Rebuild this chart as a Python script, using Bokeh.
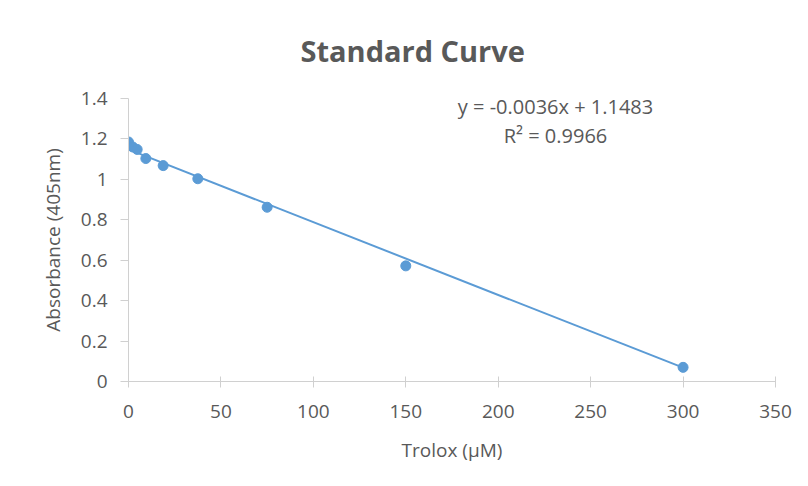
from bokeh.plotting import figure
from bokeh.models import Label, Range1d, FixedTicker
from bokeh.embed import file_html
from bokeh.resources import INLINE

# Data
trolox_um = [0, 2.34, 4.69, 9.38, 18.75, 37.5, 75, 150, 300]
absorbance = [1.185, 1.16, 1.148, 1.103, 1.068, 1.003, 0.862, 0.572, 0.07]
slope = -0.0036
intercept = 1.1483
r2 = 0.9966
x_ticks = [0, 50, 100, 150, 200, 250, 300, 350]
y_ticks = [0, 0.2, 0.4, 0.6, 0.8, 1.0, 1.2, 1.4]

FONT = "Open Sans"
GRAY = "#595959"
BLUE = "#5B9BD5"

p = figure(width=800, height=478, output_backend="svg", toolbar_location=None,
           x_range=Range1d(0, 350), y_range=Range1d(0, 1.4),
           min_border_left=128, min_border_right=25, min_border_top=97, min_border_bottom=97)
p.outline_line_color = None
p.xgrid.visible = False
p.ygrid.visible = False

p.title.text = "Standard Curve"
p.title.align = "left"
p.title.offset = 172
p.title.text_font = FONT
p.title.text_font_size = "29px"
p.title.text_font_style = "bold"
p.title.text_color = GRAY
p.title.standoff = 57

# Trendline
fit_x = [trolox_um[0], trolox_um[-1]]
fit_y = [slope * v + intercept for v in fit_x]
p.line(fit_x, fit_y, line_color=BLUE, line_width=2)
p.scatter(trolox_um, absorbance, size=10, fill_color=BLUE, line_color=BLUE)

for ax in (p.xaxis[0], p.yaxis[0]):
    ax.axis_line_color = "#D0D0D0"
    ax.major_tick_line_color = "#D0D0D0"
    ax.minor_tick_line_color = None
    ax.major_label_text_color = GRAY
    ax.major_label_text_font = FONT
    ax.major_label_text_font_size = "19px"
    ax.axis_label_text_color = GRAY
    ax.axis_label_text_font = FONT
    ax.axis_label_text_font_size = "19px"
    ax.axis_label_text_font_style = "normal"

p.xaxis.ticker = FixedTicker(ticks=x_ticks)
p.yaxis.ticker = FixedTicker(ticks=y_ticks)
p.yaxis.major_label_overrides = {0: "0", 1.0: "1"}
p.xaxis.major_tick_in = 5
p.xaxis.major_tick_out = 6
p.yaxis.major_tick_in = 0
p.yaxis.major_tick_out = 8
p.xaxis.major_label_standoff = 17
p.yaxis.major_label_standoff = 13
p.xaxis.axis_label = "Trolox (µM)"
p.yaxis.axis_label = "Absorbance (405nm)"
p.xaxis.axis_label_standoff = 16
p.yaxis.axis_label_standoff = 12

p.add_layout(Label(x=231, y=1.3606, text=f"y = {slope}x + {intercept}", text_font=FONT,
                   text_font_size="20px", text_color=GRAY,
                   text_align="center", text_baseline="middle"))
p.add_layout(Label(x=231, y=1.2176, text=f"R² = {r2}", text_font=FONT,
                   text_font_size="20px", text_color=GRAY,
                   text_align="center", text_baseline="middle"))

open("out.html", "w").write(file_html(p, INLINE))
